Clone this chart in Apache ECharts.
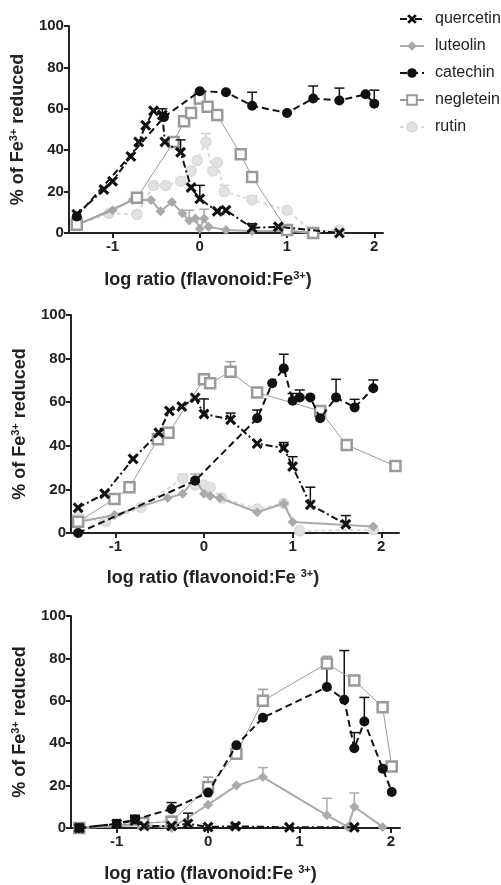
<!DOCTYPE html>
<html>
<head>
<meta charset="utf-8">
<script src="https://cdn.jsdelivr.net/npm/echarts@6/dist/echarts.min.js"></script>
<style>html,body{margin:0;padding:0;background:#fff}#c{width:501px;height:885px}</style>
</head>
<body>
<div id="c"></div>
<script>
// ---------- data ----------
const seriesNames = ['quercetin', 'luteolin', 'catechin', 'negletein', 'rutin'];
const xTicks = [-1, 0, 1, 2];

// Panel 1
const q1x = [-1.41, -1.10, -1.00, -0.79, -0.70, -0.62, -0.53, -0.43, -0.40, -0.22, -0.10, 0.00, 0.20, 0.30, 0.60, 0.90, 1.60];
const q1y = [9, 21, 25, 37, 44, 52, 59, 57, 44, 39, 22, 16.5, 10.5, 11, 2.5, 3, 0];
const q1err = [[-0.43, 57, 60], [-0.22, 39, 45], [0.00, 16.5, 23], [0.60, 2.5, 4.5]];
const l1x = [-1.41, -1.00, -0.77, -0.56, -0.45, -0.32, -0.20, -0.12, -0.05, 0.00, 0.05, 0.10, 0.30, 0.60, 1.00, 1.30];
const l1y = [4, 11, 16, 16, 10.5, 15, 9.5, 6, 7, 2, 7, 3, 1.5, 1, 1, 0];
const l1err = [[-0.12, 6, 11], [0.05, 7, 11.5]];
const c1x = [-1.41, -0.41, 0.00, 0.30, 0.60, 1.00, 1.30, 1.60, 1.90, 2.00];
const c1y = [8, 56, 68.5, 68, 61.5, 58, 65, 64, 67, 62.5];
const c1err = [[0.60, 61.5, 68], [1.30, 65, 71], [1.60, 64, 70], [2.00, 62.5, 69]];
const n1x = [-1.41, -0.72, -0.30, -0.18, -0.10, 0.00, 0.09, 0.20, 0.47, 0.60, 1.00, 1.30];
const n1y = [4, 17, 44, 54, 58, 65, 61, 57, 38, 27, 1.5, 0];
const n1err = [];
const r1x = [-1.41, -1.04, -0.72, -0.53, -0.39, -0.22, -0.10, -0.03, 0.07, 0.15, 0.20, 0.28, 0.60, 1.00, 1.30, 1.60];
const r1y = [4, 9.5, 9, 23, 23, 25, 30, 35, 44, 30, 34, 20, 16, 11, 0.5, 1.5];
const r1err = [[0.07, 44, 48], [0.28, 20, 23], [0.60, 16, 18]];

// Panel 2
const q2x = [-1.42, -1.12, -0.80, -0.51, -0.39, -0.25, -0.10, 0.00, 0.30, 0.60, 0.90, 1.00, 1.20, 1.60];
const q2y = [11.6, 18, 34, 46, 56, 58, 62, 54.6, 52, 41, 39, 30.5, 13, 4];
const q2err = [[0.00, 54.6, 61.5], [0.30, 52, 55], [0.90, 39, 41.5], [1.00, 30.5, 35], [1.20, 13, 21], [1.60, 4, 8]];
const l2x = [-1.42, -1.01, -0.41, -0.24, -0.10, 0.00, 0.07, 0.18, 0.60, 0.90, 1.00, 1.91];
const l2y = [5, 8.3, 16, 18, 25, 18, 17, 16, 9.5, 13.5, 5, 3];
const l2err = [[-0.10, 25, 27]];
const c2x = [-1.42, -0.10, 0.60, 0.77, 0.90, 1.00, 1.08, 1.20, 1.31, 1.49, 1.70, 1.91];
const c2y = [0, 24, 52.6, 68.7, 75.5, 60.7, 62.2, 62.2, 52.6, 62.2, 57.6, 66.4];
const c2err = [[0.60, 52.6, 56.4], [0.90, 75.5, 82], [1.00, 60.7, 64], [1.08, 62.2, 65.6], [1.31, 52.6, 56], [1.49, 62.2, 70.5], [1.70, 57.6, 61.3], [1.91, 66.4, 70.2]];
const n2x = [-1.42, -1.01, -0.84, -0.52, -0.40, 0.00, 0.07, 0.30, 0.60, 1.31, 1.61, 2.16];
const n2y = [5.2, 15.6, 21, 43, 46, 70.5, 68.7, 74, 64.4, 56, 40.4, 30.7];
const n2err = [[0.30, 74, 78.6]];
const r2x = [-1.42, -1.11, -0.71, -0.24, -0.10, 0.00, 0.07, 0.20, 0.60, 0.90, 1.08, 1.91];
const r2y = [7.5, 5.2, 11.8, 25, 22, 22, 21, 16, 11, 13.6, 1, 1.5];
const r2err = [[-0.24, 25, 27]];

// Panel 3
const q3x = [-1.41, -1.00, -0.80, -0.70, -0.40, -0.22, 0.00, 0.30, 0.89, 1.60];
const q3y = [0, 2, 3.5, 1, 1, 2, 0.5, 0.8, 0.3, 0.3];
const q3err = [[-0.80, 3.5, 5.5], [-0.22, 2, 7], [0.30, 0.8, 2]];
const l3x = [-1.41, -0.71, -0.40, 0.00, 0.31, 0.60, 1.30, 1.53, 1.60, 1.91];
const l3y = [0, 1.5, 0, 11, 20, 24, 6, 0.5, 10, 0.5];
const l3err = [[0.60, 24, 28.5], [1.30, 6, 14], [1.60, 10, 16.5]];
const c3x = [-1.41, -1.00, -0.80, -0.40, 0.00, 0.31, 0.60, 1.30, 1.49, 1.60, 1.71, 1.91, 2.01];
const c3y = [0, 2, 4, 9, 16.7, 39, 52, 66.5, 60.5, 37.6, 50.2, 28, 17];
const c3err = [[-0.80, 4, 6], [-0.40, 9, 12], [1.30, 66.5, 76], [1.49, 60.5, 83.7], [1.60, 37.6, 45], [1.71, 50.2, 61.6]];
const n3x = [-1.41, -0.71, -0.40, 0.00, 0.31, 0.60, 1.30, 1.60, 1.91, 2.01];
const n3y = [0, 2.3, 3, 19.3, 35, 60, 77.6, 69.6, 57, 29];
const n3err = [[0.00, 19.3, 24], [0.60, 60, 65.4], [1.30, 77.6, 81]];
const r3x = [-1.41, -0.71, -0.40];
const r3y = [0, 1.5, 4];
const r3err = [];

// ---------- assembly ----------
const panels = [
  {quercetin: [q1x, q1y, q1err], luteolin: [l1x, l1y, l1err], catechin: [c1x, c1y, c1err], negletein: [n1x, n1y, n1err], rutin: [r1x, r1y, r1err]},
  {quercetin: [q2x, q2y, q2err], luteolin: [l2x, l2y, l2err], catechin: [c2x, c2y, c2err], negletein: [n2x, n2y, n2err], rutin: [r2x, r2y, r2err]},
  {quercetin: [q3x, q3y, q3err], luteolin: [l3x, l3y, l3err], catechin: [c3x, c3y, c3err], negletein: [n3x, n3y, n3err], rutin: [r3x, r3y, r3err]}
];

const XPATH = 'path://M2,0 L5,3 L8,0 L10,2 L7,5 L10,8 L8,10 L5,7 L2,10 L0,8 L3,5 L0,2 Z';
const styles = {
  quercetin: {color: '#111', lineType: [7, 3, 2, 3], lineWidth: 2, symbol: XPATH, symbolSize: 11, fill: '#111', border: 0},
  luteolin: {color: '#aaa', lineType: 'solid', lineWidth: 2, symbol: 'diamond', symbolSize: 10, fill: '#aaa', border: 0},
  catechin: {color: '#111', lineType: [7, 4], lineWidth: 2, symbol: 'circle', symbolSize: 10, fill: '#111', border: 0},
  negletein: {color: '#9a9a9a', lineType: 'solid', lineWidth: 1, symbol: 'rect', symbolSize: 10, fill: '#fff', border: 2.5},
  rutin: {color: '#dadada', lineType: [4, 3], lineWidth: 2, symbol: 'circle', symbolSize: 10, fill: '#e2e2e2', border: 1.5}
};
const drawOrder = ['rutin', 'luteolin', 'negletein', 'catechin', 'quercetin'];

const grids = [
  {left: 68, top: 26, width: 315, height: 207},
  {left: 71, top: 315, width: 328, height: 218},
  {left: 71, top: 616, width: 329, height: 219}
];
const xMax = [2.1, 2.2, 2.1];
const xNameGap = [37, 35, 36];
const xNameShift = [36, 44, 50];
const xSep = ['', ' ', ' '];

const FONT = '"Liberation Sans", Arial, sans-serif';
const option = {
  animation: false,
  backgroundColor: '#fff',
  textStyle: {fontFamily: FONT},
  legend: {
    data: seriesNames,
    orient: 'vertical',
    left: 394, top: 6,
    itemWidth: 24, itemHeight: 12, itemGap: 11,
    textStyle: {fontSize: 16, color: '#222', fontFamily: FONT, padding: [0, 0, 0, 6]}
  },
  grid: grids.map(g => Object.assign({containLabel: false}, g)),
  xAxis: grids.map((g, i) => ({
    type: 'value', gridIndex: i, min: -1.5, max: xMax[i],
    splitLine: {show: false},
    axisLine: {onZero: false, lineStyle: {color: '#222', width: 2}},
    axisTick: {customValues: xTicks, length: 5, lineStyle: {color: '#222', width: 2}},
    axisLabel: {customValues: xTicks, fontSize: 15, fontWeight: 'bold', color: '#222', margin: 6, fontFamily: FONT},
    name: 'log ratio (flavonoid:Fe' + xSep[i] + '{sup|3+})',
    nameLocation: 'middle', nameGap: xNameGap[i],
    nameTextStyle: {fontSize: 18, fontWeight: 'bold', color: '#222', fontFamily: FONT, lineHeight: 20,
      padding: [0, xNameShift[i], 0, 0],
      rich: {sup: {fontSize: 11, fontWeight: 'bold', color: '#222', fontFamily: FONT, verticalAlign: 'top', lineHeight: 12}}}
  })),
  yAxis: grids.map((g, i) => ({
    type: 'value', gridIndex: i, min: 0, max: 100, interval: 20,
    splitLine: {show: false},
    axisLine: {show: true, onZero: false, lineStyle: {color: '#222', width: 2}},
    axisTick: {show: true, length: 5, lineStyle: {color: '#222', width: 2}},
    axisLabel: {fontSize: 15, fontWeight: 'bold', color: '#222', margin: 5, fontFamily: FONT},
    name: '% of Fe{sup|3+} reduced',
    nameLocation: 'middle', nameRotate: 90, nameGap: 38,
    nameTextStyle: {fontSize: 18, fontWeight: 'bold', color: '#222', fontFamily: FONT, lineHeight: 20,
      rich: {sup: {fontSize: 11, fontWeight: 'bold', color: '#222', fontFamily: FONT, verticalAlign: 'top', lineHeight: 12}}}
  })),
  series: []
};

function errRenderer(color) {
  return function (params, api) {
    const x = api.value(0), lo = api.value(1), hi = api.value(2);
    const p0 = api.coord([x, lo]);
    const p1 = api.coord([x, hi]);
    return {
      type: 'group',
      children: [
        {type: 'line', shape: {x1: p0[0], y1: p0[1], x2: p1[0], y2: p1[1]}, style: {stroke: color, lineWidth: 1.5}},
        {type: 'line', shape: {x1: p1[0] - 5, y1: p1[1], x2: p1[0] + 5, y2: p1[1]}, style: {stroke: color, lineWidth: 1.5}}
      ]
    };
  };
}

panels.forEach((panel, i) => {
  drawOrder.forEach((name, k) => {
    const st = styles[name];
    const [xs, ys, errs] = panel[name];
    if (errs.length) {
      option.series.push({
        type: 'custom', name: name + ' error', xAxisIndex: i, yAxisIndex: i,
        renderItem: errRenderer(st.color === '#dadada' ? '#cfcfcf' : st.color),
        encode: {x: 0, y: [1, 2]},
        data: errs, z: 1 + k, silent: true
      });
    }
    option.series.push({
      type: 'line', name: name, xAxisIndex: i, yAxisIndex: i,
      data: xs.map((x, j) => [x, ys[j]]),
      symbol: st.symbol, symbolSize: st.symbolSize, showAllSymbol: true,
      lineStyle: {color: st.color, width: st.lineWidth, type: st.lineType},
      itemStyle: {color: st.fill, borderColor: st.color, borderWidth: st.border},
      z: 2 + k
    });
  });
});

const chart = echarts.init(document.getElementById('c'), null, {renderer: 'canvas'});
chart.setOption(option);
</script>
</body>
</html>
